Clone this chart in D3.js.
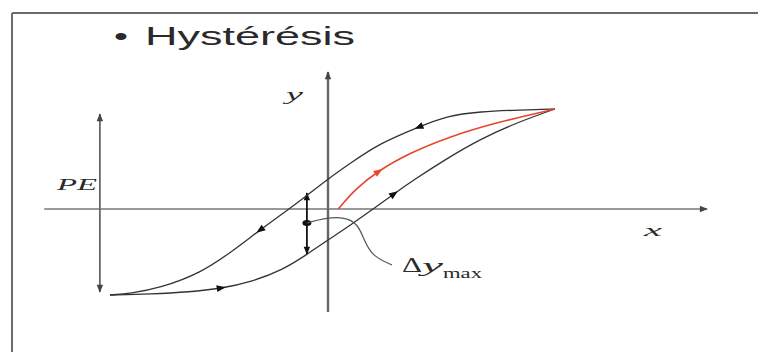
<html>

<head>
    <style>
        body {
            margin: 0;
            background: #fff;
        }
        text {
            fill: #2a2a2a;
        }
        .serif {
            font-family: "Liberation Serif", "DejaVu Serif", serif;
        }
    </style>
</head>

<body>
    <svg id="container" width="758" height="352">
        <g id="frame"></g>
        <g id="axes"></g>
        <g id="curves"></g>
        <g id="labels"></g>
    </svg>
</body>
<script src="https://cdn.jsdelivr.net/npm/d3@7"></script>
<script>
    // loop branches (x: input, y: output)
    let upperBranch = [[10, 10], [8.5, 9.9], [6.7, 9.75], [5.2, 9.3], [4.0, 8.2], [2.3, 6.6], [1.0, 4.6], [0, 3.0],
        [-0.9, 1.4], [-1.9, -0.3], [-3.0, -2.1], [-4.2, -4.2], [-5.6, -6.4], [-7.4, -7.9], [-8.7, -8.45], [-9.6, -8.6]]
    let lowerBranch = [[-9.6, -8.6], [-7.8, -8.5], [-6.1, -8.3], [-4.7, -7.95], [-3.4, -7.3], [-2.0, -6.1], [-0.9, -4.5],
        [0, -3.1], [1.0, -1.6], [2.3, 0.5], [2.9, 1.5], [3.7, 2.8], [5.2, 5.0], [6.7, 7.0], [8.5, 8.8], [10, 10]]
    let firstLoading = [[0.45, 0], [1.2, 2.0], [2.2, 3.8], [3.6, 5.6], [5.3, 7.2], [7.5, 8.7], [10, 10]]
    let leader = [[-0.93, -1.4], [-0.13, -0.9], [0.75, -0.8], [1.32, -1.5], [1.59, -3.1], [1.94, -4.7], [2.82, -5.6]]

    // index of the vertex where a direction arrow sits
    let upperArrows = [4, 10]
    let lowerArrows = [3, 10]
    let redArrows = [2]

    // axis and span extents
    let xAxisRange = [-12.5, 16.7]
    let yAxisRange = [-10.3, 13.7]
    let peX = -10.05, peRange = [-8.3, 9.5]
    let dyX = -0.93, dyRange = [-4.5, 1.6], dyDot = -1.4

    let x = d3.scaleLinear().domain([0, 10]).range([328, 555])
    let y = d3.scaleLinear().domain([0, 10]).range([209, 109])

    let svg = d3.select("#container")
    let defs = svg.append("defs")
    function marker(id, color) {
        defs.append("marker")
            .attr("id", id)
            .attr("viewBox", "0 -5 10 10")
            .attr("refX", 9).attr("refY", 0)
            .attr("markerWidth", 10).attr("markerHeight", 8)
            .attr("markerUnits", "userSpaceOnUse")
            .attr("orient", "auto-start-reverse")
            .append("path")
            .attr("d", "M0,-4L10,0L0,4Z")
            .style("fill", color)
    }
    marker("arrowGray", "#444")
    marker("arrowBlack", "#111")

    // frame (only top and left edges are in view)
    let frame = d3.select("#frame")
    frame.append("line").attr("x1", 12).attr("y1", 13).attr("x2", 758).attr("y2", 13)
        .style("stroke", "#6b6b6b").style("stroke-width", 2)
    frame.append("line").attr("x1", 12).attr("y1", 13).attr("x2", 12).attr("y2", 352)
        .style("stroke", "#6b6b6b").style("stroke-width", 2)

    let axes = d3.select("#axes")
    axes.append("line")
        .attr("x1", x(xAxisRange[0])).attr("y1", y(0))
        .attr("x2", x(xAxisRange[1])).attr("y2", y(0))
        .style("stroke", "#777").style("stroke-width", 1.4)
        .attr("marker-end", "url(#arrowGray)")
    axes.append("line")
        .attr("x1", x(0)).attr("y1", y(yAxisRange[0]))
        .attr("x2", x(0)).attr("y2", y(yAxisRange[1]))
        .style("stroke", "#666").style("stroke-width", 2.4)
        .attr("marker-end", "url(#arrowGray)")
    // PE span
    axes.append("line")
        .attr("x1", x(peX)).attr("y1", y(peRange[0]))
        .attr("x2", x(peX)).attr("y2", y(peRange[1]))
        .style("stroke", "#666").style("stroke-width", 1.8)
        .attr("marker-start", "url(#arrowGray)")
        .attr("marker-end", "url(#arrowGray)")
    // delta y max span
    axes.append("line")
        .attr("x1", x(dyX)).attr("y1", y(dyRange[0]))
        .attr("x2", x(dyX)).attr("y2", y(dyRange[1]))
        .style("stroke", "#111").style("stroke-width", 1.8)
        .attr("marker-start", "url(#arrowBlack)")
        .attr("marker-end", "url(#arrowBlack)")
    axes.append("ellipse")
        .attr("cx", x(dyX)).attr("cy", y(dyDot))
        .attr("rx", 4.5).attr("ry", 3)
        .style("fill", "#111")

    let line = d3.line().x(d => x(d[0])).y(d => y(d[1])).curve(d3.curveBasis)
    let curves = d3.select("#curves")

    function branch(points, arrows, color, width) {
        let path = curves.append("path")
            .attr("d", line(points))
            .style("fill", "none")
            .style("stroke", color)
            .style("stroke-width", width)
        let node = path.node(), total = node.getTotalLength()
        // arrow sits on the drawn curve, at the spot nearest its vertex
        let spot = i => {
            let best = 0, bestD = Infinity
            for (let l = 0; l <= total; l += 1) {
                let p = node.getPointAtLength(l)
                let d = (p.x - x(points[i][0])) ** 2 + (p.y - y(points[i][1])) ** 2
                if (d < bestD) { bestD = d; best = l }
            }
            return best
        }
        curves.selectAll(null)
            .data(arrows)
            .enter()
            .append("path")
            .attr("d", "M5,0L-4,-3.5L-4,3.5Z")
            .style("fill", color === "#333" ? "#111" : color)
            .attr("transform", i => {
                let l = spot(i)
                let p = node.getPointAtLength(l)
                let a = node.getPointAtLength(Math.max(0, l - 3)), b = node.getPointAtLength(Math.min(total, l + 3))
                let ang = Math.atan2(b.y - a.y, b.x - a.x) * 180 / Math.PI
                return `translate(${p.x},${p.y}) rotate(${ang})`
            })
    }
    branch(upperBranch, upperArrows, "#333", 1.3)
    branch(lowerBranch, lowerArrows, "#333", 1.3)
    branch(firstLoading, redArrows, "#e8452c", 1.6)

    curves.append("path")
        .attr("d", line(leader))
        .style("fill", "none")
        .style("stroke", "#555")
        .style("stroke-width", 1.2)

    // texts (the picture is stretched sideways, so glyphs are widened)
    let labels = d3.select("#labels")
    labels.append("text").text("•")
        .attr("x", 114).attr("y", 45)
        .style("font-family", "'Liberation Sans', Arial, sans-serif")
        .style("font-size", "25px")
        .attr("textLength", 14).attr("lengthAdjust", "spacingAndGlyphs")
    labels.append("text").text("Hystérésis")
        .attr("x", 145).attr("y", 45)
        .style("font-family", "'Liberation Sans', Arial, sans-serif")
        .style("font-size", "25px")
        .attr("textLength", 210).attr("lengthAdjust", "spacingAndGlyphs")

    function label(str, px, py, size, len, italic) {
        labels.append("text").text(str)
            .attr("class", "serif")
            .attr("x", px).attr("y", py)
            .style("font-size", size + "px")
            .style("font-style", italic ? "italic" : "normal")
            .attr("textLength", len).attr("lengthAdjust", "spacingAndGlyphs")
    }
    label("PE", 57, 190, 17, 40, true)
    label("y", 286, 100, 16, 17, true)
    label("x", 644, 236, 17, 18, true)
    label("Δ", 402, 272, 20, 20, false)
    label("y", 422, 272, 19, 21, true)
    label("max", 443, 278, 14, 39, false)
</script>

</html>
